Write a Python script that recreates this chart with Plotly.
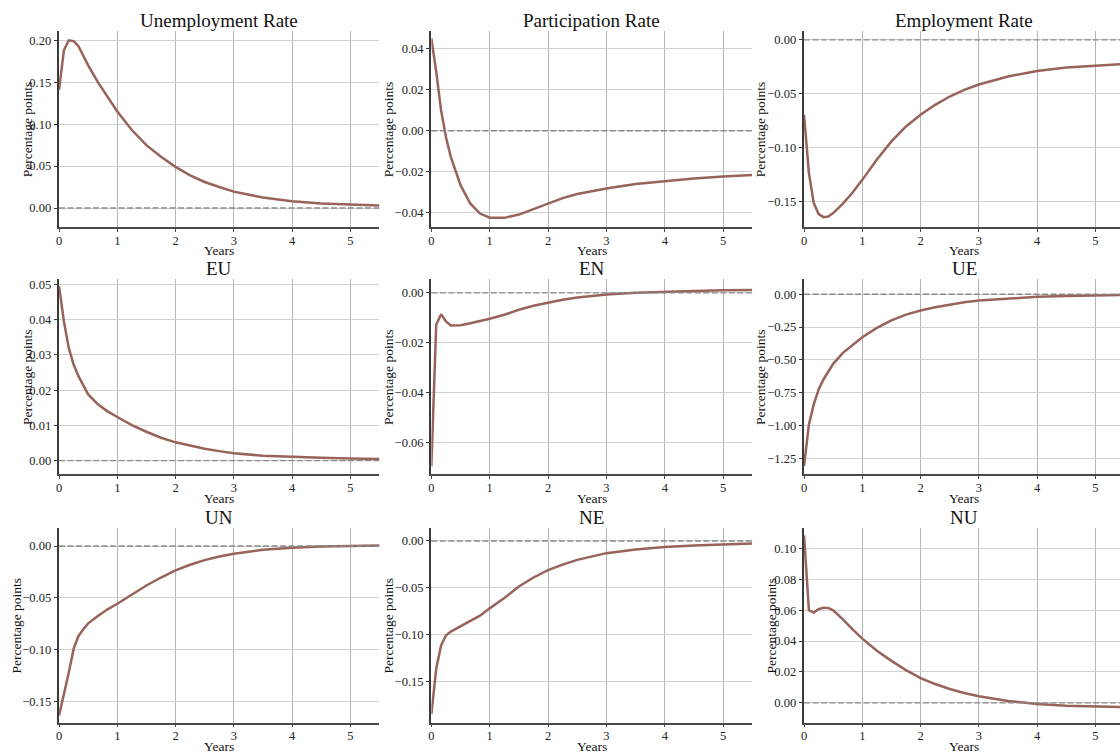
import plotly.graph_objects as go

# Impulse responses, sampled in months after the shock
months = [0, 1, 2, 3, 4, 5, 6, 8, 10, 12, 15, 18, 21, 24, 27, 30, 33, 36, 42, 48, 54, 60, 66]
years = [m / 12 for m in months]

unemployment_rate = [0.141, 0.188, 0.200, 0.199, 0.193, 0.182, 0.170, 0.150, 0.132, 0.115,
                     0.093, 0.075, 0.061, 0.049, 0.039, 0.031, 0.025, 0.0195, 0.0125, 0.008,
                     0.0055, 0.004, 0.003]
participation_rate = [0.045, 0.0288, 0.010, -0.003, -0.0127, -0.020, -0.0265, -0.0354, -0.0403,
                      -0.0423, -0.0424, -0.0408, -0.0382, -0.0353, -0.0328, -0.0308, -0.0293,
                      -0.0281, -0.0259, -0.0244, -0.0232, -0.0222, -0.0215]
employment_rate = [-0.0696, -0.1237, -0.1516, -0.1618, -0.1646, -0.1640, -0.1608, -0.152, -0.1417,
                   -0.130, -0.111, -0.0943, -0.0804, -0.0696, -0.0603, -0.0526, -0.0464, -0.0414,
                   -0.034, -0.0288, -0.0257, -0.0238, -0.0223]
eu_flow = [0.0495, 0.0396, 0.032, 0.0273, 0.024, 0.0212, 0.0188, 0.016, 0.014, 0.0124, 0.0101,
           0.0082, 0.0065, 0.0052, 0.0042, 0.0034, 0.0027, 0.0021, 0.0014, 0.0010, 0.0008,
           0.0006, 0.0005]
en_flow = [-0.0696, -0.0128, -0.0086, -0.0115, -0.0131, -0.0132, -0.0130, -0.0122, -0.0114,
           -0.0104, -0.0088, -0.0068, -0.0052, -0.0039, -0.0028, -0.0019, -0.0012, -0.0007,
           0.0, 0.0005, 0.0008, 0.0011, 0.0012]
ue_flow = [-1.308, -0.991, -0.839, -0.725, -0.649, -0.586, -0.530, -0.446, -0.383, -0.327,
           -0.256, -0.198, -0.155, -0.124, -0.099, -0.079, -0.061, -0.048, -0.031, -0.019,
           -0.013, -0.008, -0.005]
un_flow = [-0.163, -0.144, -0.122, -0.099, -0.0865, -0.080, -0.0744, -0.0673, -0.0609, -0.0555,
           -0.0465, -0.0380, -0.0303, -0.0235, -0.0180, -0.0136, -0.0101, -0.0074, -0.0037,
           -0.0016, -0.0005, 0.0002, 0.0006]
ne_flow = [-0.185, -0.1365, -0.1117, -0.101, -0.0968, -0.094, -0.0911, -0.0862, -0.0798, -0.072,
           -0.061, -0.0486, -0.039, -0.0312, -0.0252, -0.0202, -0.0162, -0.0130, -0.0090,
           -0.0064, -0.0047, -0.0035, -0.0026]
nu_flow = [0.1084, 0.0599, 0.0584, 0.0606, 0.0616, 0.0614, 0.0599, 0.0541, 0.0476, 0.0416,
           0.0338, 0.0272, 0.0212, 0.016, 0.0122, 0.0090, 0.0064, 0.0043, 0.0013, -0.0007,
           -0.0018, -0.0024, -0.0027]

panel_titles = ["Unemployment Rate", "Participation Rate", "Employment Rate",
                "EU", "EN", "UE", "UN", "NE", "NU"]
panel_series = [unemployment_rate, participation_rate, employment_rate,
                eu_flow, en_flow, ue_flow, un_flow, ne_flow, nu_flow]

# Axis styling per panel: y range, tick step, x-position of the y label (px)
y_ranges = [[-0.0223, 0.2111], [-0.0467, 0.0486], [-0.1735, 0.0083],
            [-0.0039, 0.0516], [-0.0729, 0.0056], [-1.372, 0.117],
            [-0.1698, 0.0177], [-0.194, 0.0143], [-0.0127, 0.1134]]
y_steps = [0.05, 0.02, 0.05, 0.01, 0.02, 0.25, 0.05, 0.05, 0.02]
ylabel_px = [27, 389, 762, 27, 389, 762, 16, 389, 773]

W, H = 1120, 754
DX, DY = -2.5, -1.0          # small nudge of the whole grid in px
col_px = [(58.7, 379.9), (432.0, 753.8), (805.7, 1120.0)]
row_px = [(31.0, 227.0), (279.3, 475.0), (528.3, 723.5)]
x_span = 5.5                 # years shown in a full-width panel
px_per_year = [(r - l) / x_span for l, r in [(58.7, 379.9), (432.0, 753.8), (805.7, 1127.0)]]

LINE = "#97635a"
FONT = "Liberation Serif"


def px_x(v):
    return (v + DX) / W


def px_y(v):
    return 1 - (v + DY) / H


fig = go.Figure()
layout = {}
annotations = []
shapes = []

for i, (title, vals) in enumerate(zip(panel_titles, panel_series)):
    r, c = divmod(i, 3)
    n = i + 1
    xa = "x" if n == 1 else f"x{n}"
    ya = "y" if n == 1 else f"y{n}"
    xl, xr = col_px[c]
    yt, yb = row_px[r]
    x0_dom = px_x(xl)
    # the last column runs off the right edge of the canvas
    x1_dom = 1.0 if xr >= W else px_x(xr)
    x_hi = (x1_dom - x0_dom) * W / px_per_year[c]

    fig.add_trace(go.Scatter(
        x=years, y=vals, xaxis=xa, yaxis=ya, mode="lines",
        line=dict(color=LINE, width=2.5), showlegend=False, hoverinfo="skip"))

    layout["xaxis" if n == 1 else f"xaxis{n}"] = dict(
        domain=[x0_dom, x1_dom], range=[0, x_hi], anchor=ya,
        tick0=0, dtick=1, tickformat="d",
        showgrid=True, gridcolor="#b4b4b4", gridwidth=1,
        showline=True, linecolor="#4a4a4a", linewidth=1.6,
        ticks="outside", ticklen=3, tickcolor="#4a4a4a", tickwidth=1,
        ticklabelstandoff=-2,
        tickfont=dict(family=FONT, size=12.5, color="#222"),
        zeroline=False, fixedrange=True)
    layout["yaxis" if n == 1 else f"yaxis{n}"] = dict(
        domain=[px_y(yb), px_y(yt)], range=y_ranges[i], anchor=xa,
        tick0=0, dtick=y_steps[i], tickformat=".2f",
        showgrid=True, gridcolor="#d2d2d2", gridwidth=1.3,
        showline=True, linecolor="#3a3a3a", linewidth=1.6,
        ticks="outside", ticklen=3.5, tickcolor="#3a3a3a", tickwidth=1,
        tickfont=dict(family=FONT, size=12.5, color="#222"),
        zeroline=False, fixedrange=True)

    # dashed reference line at zero
    shapes.append(dict(type="line", xref=f"{xa} domain", yref=ya, x0=0, x1=1, y0=0, y1=0,
                       line=dict(color="#8a8a8a", width=1.4, dash="6px,2.5px"),
                       layer="above"))

    full_right = xl + x_span * px_per_year[c]
    annotations.append(dict(text=title, xref="paper", yref="paper",
                            x=px_x((xl + full_right) / 2), y=px_y(yt - 10.5),
                            xanchor="center", yanchor="middle", showarrow=False,
                            font=dict(family=FONT, size=19, color="#111")))
    annotations.append(dict(text="Years", xref="paper", yref="paper",
                            x=px_x((xl + full_right) / 2), y=px_y(yb + 24),
                            xanchor="center", yanchor="middle", showarrow=False,
                            font=dict(family=FONT, size=13.5, color="#111")))
    annotations.append(dict(text="Percentage points", xref="paper", yref="paper",
                            x=px_x(ylabel_px[i]), y=px_y((yt + yb) / 2), textangle=-90,
                            xanchor="center", yanchor="middle", showarrow=False,
                            font=dict(family=FONT, size=13.5, color="#111")))

fig.update_layout(
    width=W, height=H, margin=dict(l=0, r=0, t=0, b=0),
    paper_bgcolor="white", plot_bgcolor="white",
    font=dict(family=FONT), annotations=annotations, shapes=shapes, **layout)

fig.write_html("out.html", config={"displayModeBar": False})
